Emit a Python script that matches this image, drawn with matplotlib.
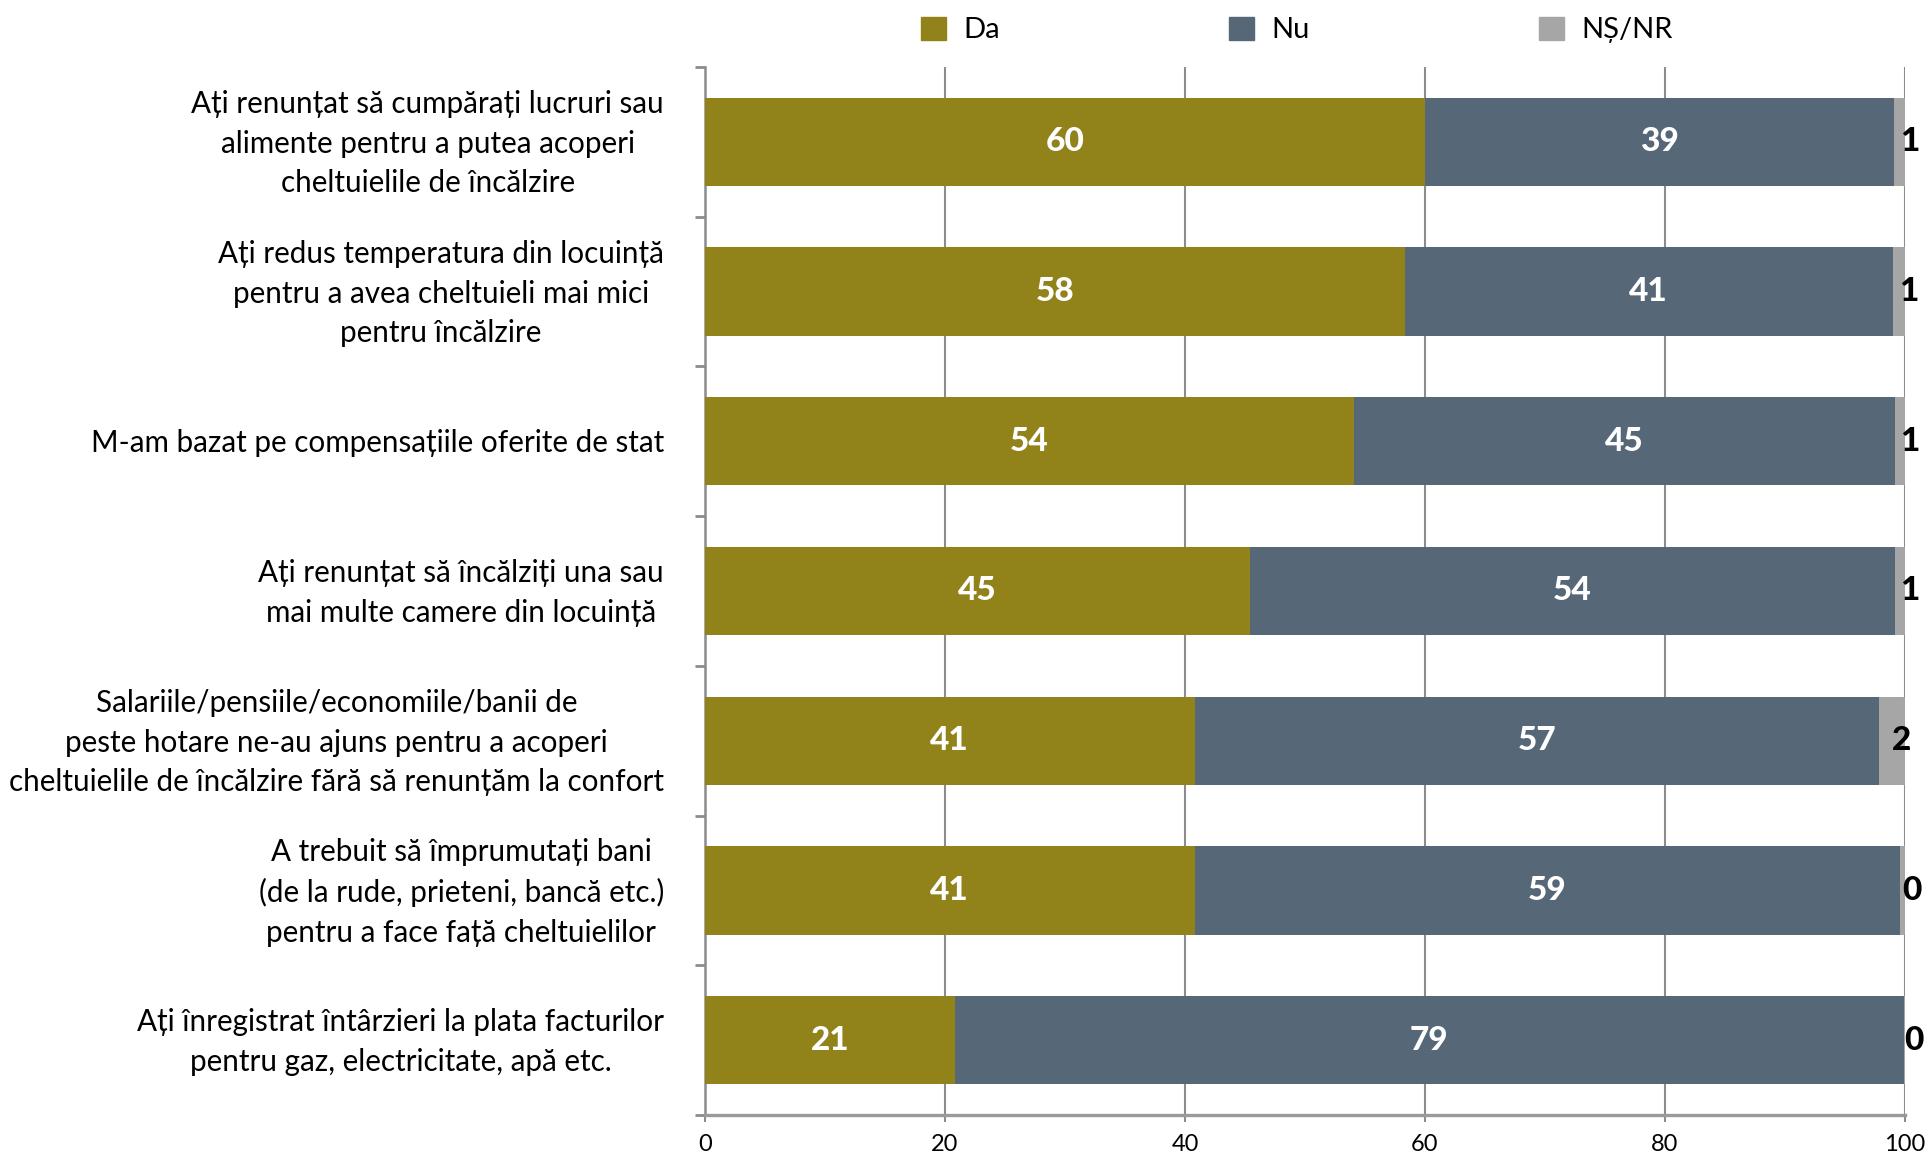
import matplotlib
matplotlib.use('Agg')
import matplotlib.pyplot as plt
from matplotlib.patches import Patch
import numpy as np

# date (procente)
categories = [
    "Ați renunțat să cumpărați lucruri sau\nalimente pentru a putea acoperi\ncheltuielile de încălzire",
    "Ați redus temperatura din locuință\npentru a avea cheltuieli mai mici\npentru încălzire",
    "M-am bazat pe compensațiile oferite de stat",
    "Ați renunțat să încălziți una sau\nmai multe camere din locuință",
    "Salariile/pensiile/economiile/banii de\npeste hotare ne-au ajuns pentru a acoperi\ncheltuielile de încălzire fără să renunțăm la confort",
    "A trebuit să împrumutați bani\n(de la rude, prieteni, bancă etc.)\npentru a face față cheltuielilor",
    "Ați înregistrat întârzieri la plata facturilor\npentru gaz, electricitate, apă etc.",
]
da = [60.0, 58.3, 54.1, 45.4, 40.8, 40.8, 20.8]
nu = [39.1, 40.7, 45.1, 53.8, 57.0, 58.8, 79.1]
ns = [0.9, 1.0, 0.8, 0.8, 2.2, 0.4, 0.1]
series_names = ["Da", "Nu", "NȘ/NR"]
xticks = [0, 20, 40, 60, 80, 100]

c_da = "#91821A"
c_nu = "#566778"
c_ns = "#A6A6A6"
c_grid = "#8C8C8C"

plt.rcParams['font.family'] = ['Lato', 'DejaVu Sans']

fig = plt.figure(figsize=(19.31, 11.53), dpi=100)
ax = fig.add_axes([705/1931, 1 - 1115/1153, 1200/1931, (1115 - 67)/1153])

y = np.arange(len(categories))
h = 0.59
da_a = np.array(da)
nu_a = np.array(nu)
ns_a = np.array(ns)

ax.barh(y, da_a, height=h, color=c_da, zorder=3)
ax.barh(y, nu_a, left=da_a, height=h, color=c_nu, zorder=3)
ax.barh(y, ns_a, left=da_a + nu_a, height=h, color=c_ns, zorder=3)

# etichete valori
for i in range(len(y)):
    ax.text(da_a[i] / 2, y[i], f"{da_a[i]:.0f}", ha='center', va='center',
            color='white', fontsize=24, fontweight='black', zorder=4)
    ax.text(da_a[i] + nu_a[i] / 2, y[i], f"{nu_a[i]:.0f}", ha='center', va='center',
            color='white', fontsize=24, fontweight='black', zorder=4)
    ax.annotate(f"{ns_a[i]:.0f}", (da_a[i] + nu_a[i] + ns_a[i] / 2, y[i]),
                xytext=(7, 0), textcoords='offset points', ha='center', va='center',
                color='black', fontsize=24, fontweight='black', zorder=4,
                annotation_clip=False)

# etichete categorii (text pe mai multe randuri, centrat)
for i, cat in enumerate(categories):
    ax.annotate(cat, (0, y[i]), xycoords=('axes fraction', 'data'),
                xytext=(-41, -2), textcoords='offset pixels',
                ha='right', va='center', multialignment='center',
                fontsize=21.3, linespacing=1.5, annotation_clip=False)

ax.set_xlim(0, 100)
ax.set_ylim(len(categories) - 0.5, -0.5)
ax.set_xticks(xticks)
ax.set_xticklabels([str(t) for t in xticks], fontsize=17)
ax.set_yticks(y)
ax.set_yticklabels([])
ax.set_yticks(np.arange(len(categories) + 1) - 0.5, minor=True)
ax.tick_params(axis='y', which='major', length=0)
ax.tick_params(axis='y', which='minor', length=7, width=2, color=c_grid, direction='out')
ax.tick_params(axis='x', length=5, width=1.5, color=c_grid, pad=9)

ax.grid(axis='x', color=c_grid, linewidth=1.5, zorder=0)
for s in ['top', 'right']:
    ax.spines[s].set_visible(False)
ax.spines['left'].set_color(c_grid)
ax.spines['left'].set_linewidth(1.8)
ax.spines['bottom'].set_color('#9A9A9A')
ax.spines['bottom'].set_linewidth(2.4)

handles = [Patch(color=c) for c in (c_da, c_nu, c_ns)]
fig.legend(handles, series_names, loc='center', bbox_to_anchor=(1297/1931, 1 - 30/1153),
           ncol=3, frameon=False, fontsize=21, handlelength=0.85, handleheight=0.85,
           handletextpad=0.6, columnspacing=7.85)

fig.savefig('out.png', dpi=100)
